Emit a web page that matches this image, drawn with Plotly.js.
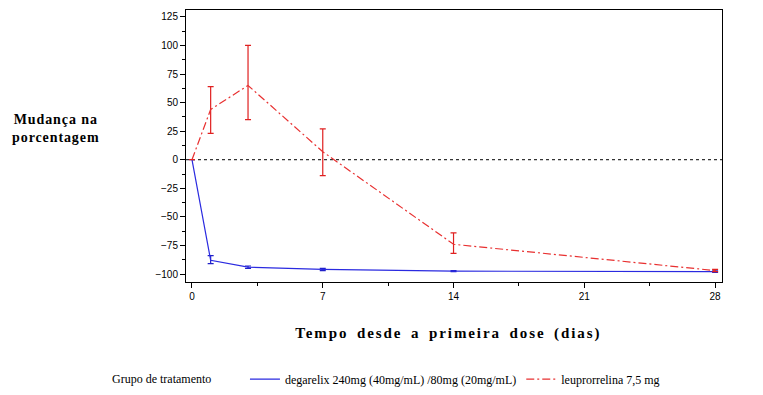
<!DOCTYPE html>
<html><head><meta charset="utf-8">
<script src="https://cdn.plot.ly/plotly-3.0.1.min.js"></script>
<style>
body{margin:0;background:#fff}
g.annotation[data-index="0"] text{letter-spacing:0.9px}
g.annotation[data-index="1"] text{letter-spacing:1.9px;word-spacing:3px}
</style></head>
<body><div id="chart" style="width:763px;height:395px"></div>
<script>
const days = [0, 1, 3, 7, 14, 28];
const degName = "degarelix 240mg (40mg/mL) /80mg (20mg/mL)";
const degMean = [0, -88, -94, -96, -97.5, -98];
const degUpper = [0, -84, -93, -95, -97, -97.3];
const degLower = [0, -91, -95, -97, -98, -98.5];
const leuName = "leuprorrelina 7,5 mg";
const leuMean = [0, 44, 65, 7, -74, -97];
const leuUpper = [0, 64, 100, 27, -64, -96];
const leuLower = [0, 23, 35, -14, -82, -98];
const yTicks = [-100, -75, -50, -25, 0, 25, 50, 75, 100, 125];
const xTicks = [0, 7, 14, 21, 28];
const legendTitle = "Grupo de tratamento";

const plus = (m, u) => u.map((v, i) => v - m[i]);
const minus = (m, l) => l.map((v, i) => m[i] - v);
const serif = 'Liberation Serif, Times New Roman, serif';
const sans = 'Liberation Sans, Arial, sans-serif';

const traces = [
  {x: days, y: degMean, name: degName, mode: 'lines', type: 'scatter',
   line: {color: '#2a2ae0', width: 1.2},
   error_y: {type: 'data', symmetric: false, array: plus(degMean, degUpper), arrayminus: minus(degMean, degLower), color: '#2020c8', thickness: 1.2, width: 3}},
  {x: days, y: leuMean, name: leuName, mode: 'lines', type: 'scatter',
   line: {color: '#e83030', width: 1.2, dash: '8px,3px,2px,3px'},
   error_y: {type: 'data', symmetric: false, array: plus(leuMean, leuUpper), arrayminus: minus(leuMean, leuLower), color: '#e02020', thickness: 1.2, width: 3}}
];

const layout = {
  width: 763, height: 395,
  margin: {l: 186, r: 41, t: 10, b: 113, autoexpand: false},
  paper_bgcolor: '#fff', plot_bgcolor: '#fff',
  font: {family: serif, size: 12, color: '#000'},
  showlegend: true,
  legend: {orientation: 'h', x: 0.11, xanchor: 'left', y: -0.357, yanchor: 'middle',
    font: {family: serif, size: 12, color: '#000'},
    traceorder: 'normal'},
  xaxis: {range: [-0.32, 28.37], tickvals: xTicks, ticktext: xTicks.map(String),
    showgrid: false, zeroline: false, showline: true, linecolor: '#000', linewidth: 1, mirror: true,
    ticks: 'outside', ticklen: 5, tickcolor: '#000',
    minor: {dtick: 3.5, tick0: 0, ticks: 'outside', ticklen: 3, tickcolor: '#000'},
    tickfont: {family: sans, size: 10}},
  yaxis: {range: [-107, 131], tickvals: yTicks, ticktext: yTicks.map(v => v < 0 ? '\u2212' + Math.abs(v) : String(v)),
    showgrid: false, zeroline: false, showline: true, linecolor: '#000', linewidth: 1, mirror: true,
    ticks: 'outside', ticklen: 5, tickcolor: '#000',
    minor: {dtick: 12.5, tick0: 0, ticks: 'outside', ticklen: 3, tickcolor: '#000'},
    tickfont: {family: sans, size: 10}},
  shapes: [{type: 'line', xref: 'paper', x0: 0, x1: 1, yref: 'y', y0: 0, y1: 0,
    line: {color: '#000', width: 1, dash: 'dot'}, layer: 'below'}],
  annotations: [
    {text: '<b>Mudança na<br>porcentagem</b>', xref: 'paper', yref: 'paper', x: -0.243, y: 0.565,
     xanchor: 'center', yanchor: 'middle', showarrow: false,
     font: {family: serif, size: 14}},
    {text: '<b>Tempo desde a primeira dose (dias)</b>', xref: 'paper', yref: 'paper', x: 0.49, y: -0.19,
     xanchor: 'center', yanchor: 'middle', showarrow: false,
     font: {family: serif, size: 15}},
    {text: legendTitle, xref: 'paper', yref: 'paper', x: -0.141, y: -0.357,
     xanchor: 'left', yanchor: 'middle', showarrow: false,
     font: {family: serif, size: 12}}
  ]
};
Plotly.newPlot('chart', traces, layout, {displayModeBar: false, staticPlot: true});
</script></body></html>
